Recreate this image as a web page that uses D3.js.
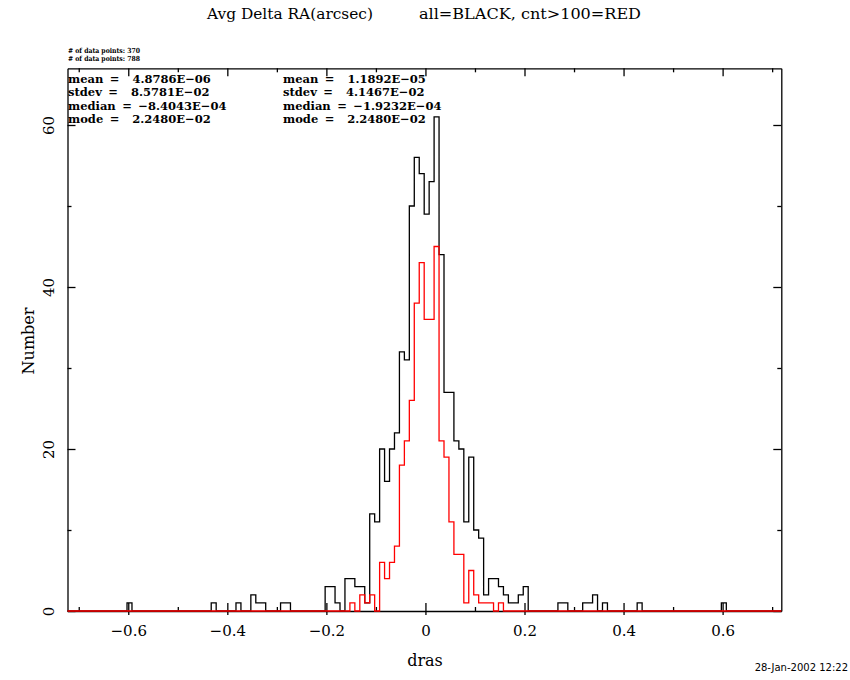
<!DOCTYPE html>
<html>
<head>
<meta charset="utf-8">
<script src="https://cdn.jsdelivr.net/npm/d3@7"></script>
<style>
  body { margin: 0; background: #fff; }
  text { white-space: pre; }
</style>
</head>
<body>
<script>
// histogram bins (bin width 0.01)
const binWidth = 0.01;

// all points = black
const allCenters = [-0.59752, -0.42752, -0.37752, -0.34752, -0.33752, -0.32752, -0.28752, -0.27752,
  -0.19752, -0.18752, -0.17752, -0.16752, -0.15752, -0.14752, -0.13752, -0.12752, -0.11752,
  -0.10752, -0.09752, -0.08752, -0.07752, -0.06752, -0.05752, -0.04752, -0.03752, -0.02752,
  -0.01752, -0.00752, 0.00248, 0.01248, 0.02248, 0.03248, 0.04248, 0.05248, 0.06248, 0.07248,
  0.08248, 0.09248, 0.10248, 0.11248, 0.12248, 0.13248, 0.14248, 0.15248, 0.16248, 0.17248,
  0.18248, 0.19248, 0.20248,
  0.27248, 0.28248, 0.32248, 0.33248, 0.34248, 0.36248, 0.43248, 0.60248];
const allCounts = [1, 1, 1, 2, 1, 1, 1, 1,
  3, 3, 1, 0, 4, 4, 3, 3, 1,
  12, 11, 20, 16, 20, 22, 32, 31, 50,
  56, 54, 49, 53, 61, 44, 27, 27, 21, 20,
  11, 19, 10, 9, 2, 4, 4, 3, 2, 1,
  1, 2, 3,
  1, 1, 1, 1, 2, 1, 1, 1];

// cnt>100 = red
const redCenters = [-0.14752, -0.13752, -0.12752, -0.11752, -0.10752, -0.09752, -0.08752, -0.07752,
  -0.06752, -0.05752, -0.04752, -0.03752, -0.02752, -0.01752, -0.00752, 0.00248, 0.01248, 0.02248,
  0.03248, 0.04248, 0.05248, 0.06248, 0.07248, 0.08248, 0.09248, 0.10248, 0.11248, 0.12248,
  0.13248, 0.14248, 0.15248];
const redCounts = [1, 0, 2, 1, 2, 0, 6, 4,
  6, 8, 18, 21, 26, 38, 43, 36, 36, 45,
  21, 19, 11, 7, 7, 1, 5, 2, 1, 1,
  1, 0, 1];

const xMajor = [-0.6, -0.4, -0.2, 0, 0.2, 0.4, 0.6];
const xMinor = [-0.7, -0.5, -0.3, -0.1, 0.1, 0.3, 0.5, 0.7];
const yMajor = [0, 20, 40, 60];
const yMinor = [10, 30, 50];

const title1 = "Avg Delta RA(arcsec)";
const title2 = "all=BLACK, cnt>100=RED";
const pointsLines = ["# of data points: 370", "# of data points: 788"];
const statsLeft = ["mean =  4.8786E\u221206", "stdev =  8.5781E\u221202", "median = \u22128.4043E\u221204", "mode =  2.2480E\u221202"];
const statsRight = ["mean =  1.1892E\u221205", "stdev =  4.1467E\u221202", "median = \u22121.9232E\u221204", "mode =  2.2480E\u221202"];
const dateText = "28-Jan-2002 12:22";

const W = 850, H = 680;
const L = 67.5, R = 781.3, T = 68.3, B = 611;
const serif = "DejaVu Serif";

const svg = d3.select("body").append("svg").attr("width", W).attr("height", H);

const x = d3.scaleLinear().domain([-0.7227, 0.7185]).range([L, R]);
const y = d3.scaleLinear().domain([0, 67]).range([B, T]);

// step outline of a histogram, dropping to 0 between separated bins
const stepPoints = function(centers, counts) {
  let pts = [[x.domain()[0], 0]];
  centers.forEach((c, i) => {
    let lo = c - binWidth / 2, hi = c + binWidth / 2;
    let prevAdj = i > 0 && Math.abs(centers[i - 1] + binWidth - c) < 1e-6;
    let nextAdj = i < centers.length - 1 && Math.abs(c + binWidth - centers[i + 1]) < 1e-6;
    if (!prevAdj) pts.push([lo, 0]);
    pts.push([lo, counts[i]], [hi, counts[i]]);
    if (!nextAdj) pts.push([hi, 0]);
  });
  pts.push([x.domain()[1], 0]);
  return pts;
}

const line = d3.line().x(d => x(d[0])).y(d => y(d[1]));

// axes
const styleAxis = g => {
  g.attr("font-family", serif).attr("font-size", 15);
  g.selectAll("path, line").attr("stroke", "#000").attr("stroke-width", 1.3);
  g.selectAll("text").attr("fill", "#000");
};

const fmtX = d => d === 0 ? "0" : d3.format(".1f")(d);

// bottom
svg.append("g").attr("transform", `translate(0,${B})`)
  .call(d3.axisBottom(x).tickValues(xMajor).tickSizeInner(-8).tickSizeOuter(0).tickFormat(fmtX))
  .call(styleAxis)
  .call(g => g.selectAll("text").attr("y", 14).attr("dy", "0.71em"));
svg.append("g").attr("transform", `translate(0,${B})`)
  .call(d3.axisBottom(x).tickValues(xMajor).tickSize(4).tickFormat(""))
  .call(styleAxis).call(g => g.select(".domain").remove());
svg.append("g").attr("transform", `translate(0,${B})`)
  .call(d3.axisBottom(x).tickValues(xMinor).tickSize(-4).tickFormat(""))
  .call(styleAxis).call(g => g.select(".domain").remove());

// top
svg.append("g").attr("transform", `translate(0,${T})`)
  .call(d3.axisTop(x).tickValues(xMajor).tickSizeInner(-8).tickSizeOuter(0).tickFormat(""))
  .call(styleAxis);
svg.append("g").attr("transform", `translate(0,${T})`)
  .call(d3.axisTop(x).tickValues(xMinor).tickSize(-4).tickFormat(""))
  .call(styleAxis).call(g => g.select(".domain").remove());

// left
svg.append("g").attr("transform", `translate(${L},0)`)
  .call(d3.axisLeft(y).tickValues(yMajor).tickSizeInner(-8).tickSizeOuter(0))
  .call(styleAxis)
  .call(g => g.selectAll("text").attr("x", null).attr("dy", "0.35em")
    .attr("text-anchor", "middle").attr("transform", "translate(-19,0) rotate(-90)"));
svg.append("g").attr("transform", `translate(${L},0)`)
  .call(d3.axisLeft(y).tickValues(yMinor).tickSize(-4).tickFormat(""))
  .call(styleAxis).call(g => g.select(".domain").remove());

// right
svg.append("g").attr("transform", `translate(${R},0)`)
  .call(d3.axisRight(y).tickValues(yMajor).tickSizeInner(-8).tickSizeOuter(0).tickFormat(""))
  .call(styleAxis);
svg.append("g").attr("transform", `translate(${R},0)`)
  .call(d3.axisRight(y).tickValues(yMinor).tickSize(-4).tickFormat(""))
  .call(styleAxis).call(g => g.select(".domain").remove());

// histograms
svg.append("path").datum(stepPoints(allCenters, allCounts))
  .attr("d", line).attr("fill", "none").attr("stroke", "#000").attr("stroke-width", 1.3);
svg.append("path").datum(stepPoints(redCenters, redCounts))
  .attr("d", line).attr("fill", "none").attr("stroke", "#ff0000").attr("stroke-width", 1.3);

// titles and labels
svg.append("text").attr("x", 207).attr("y", 19).attr("font-family", serif).attr("font-size", 15)
  .attr("textLength", 166).attr("lengthAdjust", "spacingAndGlyphs").text(title1);
svg.append("text").attr("x", 419).attr("y", 19).attr("font-family", serif).attr("font-size", 15)
  .attr("textLength", 222).attr("lengthAdjust", "spacingAndGlyphs").text(title2);

svg.append("text").attr("transform", "translate(28,341) rotate(-90)").attr("dy", "0.35em")
  .attr("text-anchor", "middle").attr("font-family", serif).attr("font-size", 16).text("Number");
svg.append("text").attr("x", 425).attr("y", 666).attr("text-anchor", "middle")
  .attr("font-family", serif).attr("font-size", 16).text("dras");

svg.selectAll(".npts").data(pointsLines).enter().append("text").attr("class", "npts")
  .attr("x", 68).attr("y", (d, i) => 53 + i * 8).attr("font-family", serif).attr("font-weight", "bold")
  .attr("font-size", 7).attr("textLength", 72).attr("lengthAdjust", "spacingAndGlyphs").text(d => d);

const drawStats = (lines, x0) => {
  svg.append("g").selectAll("text").data(lines).enter().append("text")
    .attr("x", x0).attr("y", (d, i) => 82.5 + i * 13.6)
    .attr("font-family", serif).attr("font-weight", "bold").attr("font-size", 11.5)
    .attr("word-spacing", 2.5)
    .text(d => d);
};
drawStats(statsLeft, 68);
drawStats(statsRight, 283);

svg.append("text").attr("x", 848).attr("y", 671).attr("text-anchor", "end")
  .attr("font-family", "DejaVu Sans").attr("font-size", 10).text(dateText);
</script>
</body>
</html>
